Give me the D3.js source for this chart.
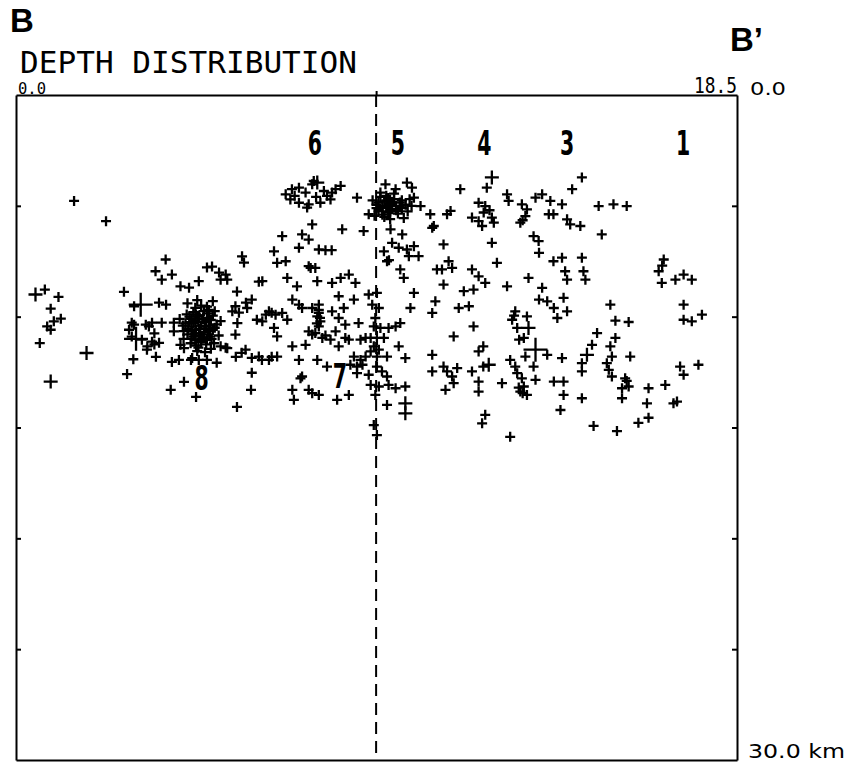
<!DOCTYPE html>
<html><head><meta charset="utf-8">
<script src="https://cdn.jsdelivr.net/npm/d3@7"></script>
<style>body{margin:0;background:#fff}</style>
</head><body>
<svg id="chart" width="852" height="766"></svg>
<script>
// distance along section B-B' (km), depth (km), size class
const westEvents = [[1.49,4.78],[2.31,5.69],[0.50,9.00,2],[0.74,8.78],[1.09,9.11],[0.89,9.64],[1.15,10.09],[0.80,10.44],[0.89,10.59],[0.97,10.21],[0.61,11.19],[1.81,11.64,2],[0.89,12.93,2]];

const cluster8Core = [[4.45,10.0],[4.55,9.8],[4.6,10.2],[4.7,9.95],[4.8,10.1],[4.9,9.85],[5.0,10.15],[4.5,10.45],[4.62,10.6],[4.75,10.4],[4.85,10.55],[4.95,10.4],[5.05,10.6],[4.4,10.8],[4.55,10.9],[4.7,10.75],[4.8,10.95],[4.92,10.8],[5.02,11.0],[4.48,11.2],[4.62,11.3],[4.75,11.15],[4.88,11.25],[4.6,9.6],[4.75,9.5],[4.9,9.55],[5.1,9.75],[5.15,10.35],[5.2,10.85],[4.35,10.3],[4.3,10.65],[4.65,11.55],[4.85,11.6],[5.0,11.45],[4.4,9.4],[4.65,9.25],[5.05,9.3],[4.3,11.0],[5.25,10.2],[4.2,10.1],[4.55,10.3],[4.7,10.55],[4.85,10.25],[4.98,10.9],[4.6,11.05],[4.78,10.1],[4.68,10.25],[4.82,10.7],[4.52,10.65],[4.95,10.05],
[4.5,10.1],[4.65,10.0],[4.88,10.45],[4.72,10.85],[4.58,10.75],[4.42,10.55],[5.1,10.5],[4.95,10.65],[4.68,11.4],[4.5,11.0],[4.82,9.75],[4.38,9.9],[5.08,11.2],[4.28,10.4],[4.9,11.05],[4.62,9.9],[4.75,11.0],[4.45,10.25],[5.05,9.95],[4.95,9.7]];

const cluster8Outer = [[2.77,8.88],[3.03,9.53],[3.20,9.46,3],[3.58,7.95],[2.90,10.59],[3.03,10.36],[3.08,11.0,3],[3.41,10.44],[3.55,10.75],[3.37,11.34],[3.55,11.25],[3.01,11.92],[2.85,12.59],
[3.74,8.33],[4.0,8.1],[4.22,8.63],[4.44,8.69],[4.69,8.40],[4.90,7.78],[5.03,7.74],[5.21,8.01],[5.38,8.10],[5.80,7.28],[5.85,7.56],[6.23,8.42],[5.67,8.87],[5.90,9.37],[6.05,9.23],[5.72,9.82],[6.18,10.14],[6.41,9.91],[6.56,9.82],
[3.85,9.46],[3.67,9.37],[2.97,10.27],[3.33,10.36],[3.49,10.27],[3.74,10.27],[4.05,10.27],[2.97,10.90],[3.23,11.04],[3.49,11.13],[3.67,11.18],[3.36,11.49],[3.59,11.81],
[4.0,12.04],[4.18,11.95],[4.49,11.95],[4.69,11.95],[4.90,11.95],[5.15,12.08],[5.38,11.40],[5.64,11.81],[5.79,11.63],[6.05,11.86],[6.31,11.95],[6.56,11.81],[6.05,12.53],[6.03,13.30],[5.67,14.07],[4.31,12.94],[3.97,13.30],[4.62,13.62],
[3.84,7.42],[5.25,8.33],[5.42,8.33],[4.05,10.66],[4.22,11.27],[4.31,11.42],[4.52,11.87],[5.25,11.34],[5.42,11.42],[5.63,9.53],[5.68,10.29],[5.63,10.81],[5.55,9.76],[5.93,9.61],[6.32,10.21],[6.49,9.76],[6.66,9.91],[6.83,9.83],[6.62,10.51],[6.70,10.89],[6.96,10.14],[5.89,11.49],[6.23,11.80],[6.49,11.95],[6.70,11.80],
[6.62,7.05],[6.83,6.37],[6.70,7.57],[6.92,7.50],[6.96,8.25]];

const cluster6Events = [[6.92,4.48],[7.08,4.25],[7.26,4.18],[7.43,4.40],[7.60,4.03],[7.73,3.95,2],[7.90,4.33],[8.11,4.40],[8.33,4.10],[8.07,4.71],[7.81,4.86],[7.51,4.93],[7.26,4.86],[7.04,4.71],[8.75,4.63],[7.64,3.88],[7.47,5.08],[7.98,4.55],[8.20,4.25],[7.70,4.60],[7.15,4.55]];

const cluster7Events = [[7.60,5.84],[7.34,6.29],[7.51,6.52],[8.37,6.06],[8.92,6.14],[7.26,6.89],[7.77,6.97],[7.94,7.0],[8.10,7.0],[7.56,7.80],[7.51,7.72],[7.68,7.80],[7.21,8.63],[6.32,8.40],[7.73,8.40],[8.11,8.48],[8.33,8.25],[8.54,8.10],[8.71,8.48],[7.09,9.23],[7.26,9.46],[8.28,9.08],[8.67,9.23],[8.41,9.61],[8.11,9.76],[7.77,9.46],[7.77,9.83],[7.81,10.21],[7.60,9.61],[7.34,9.61],[8.28,10.06],[8.45,10.36],[8.79,10.29],[7.60,10.81],[7.86,10.96],[8.07,11.04],[8.28,11.34],[8.54,11.04],[7.73,11.95],[7.98,12.25],[8.67,11.80],[8.58,12.17],[7.34,12.70],[7.60,13.45],[7.77,13.53],[8.24,13.75],[8.54,13.53],[7.43,11.27],[7.09,11.34],[7.26,11.95],[7.30,12.78],[7.09,13.30],[7.13,13.75],[7.51,13.30],[7.73,9.99],[7.77,10.44],[7.51,10.66],[7.68,10.74],[7.94,10.85],[8.20,10.66],[8.45,10.96],[7.77,9.7],[7.80,10.05],[7.72,10.3]];

const cluster5Core = [[9.15,4.75],[9.25,4.95],[9.3,5.2],[9.35,4.6],[9.4,5.0],[9.45,4.8],[9.5,5.1],[9.5,4.55],[9.55,5.3],[9.6,4.9],[9.65,5.15],[9.7,4.7],[9.75,5.0],[9.8,5.35],[9.85,4.85],[9.9,5.1],[10.0,4.95],[10.05,5.25],[10.1,4.7],[9.2,5.45],[9.45,5.5],[9.6,5.6],[9.35,4.4],[9.7,4.45],[9.95,5.55],[9.55,5.0],[9.4,5.25],[9.65,4.95],
[9.3,4.85],[9.5,4.75],[9.6,5.25],[9.75,5.2],[9.85,5.05],[9.4,5.4],[9.55,4.65],[9.9,4.75],[10.15,5.0],[9.25,5.1]];

const cluster5Outer = [[9.48,4.03],[9.74,4.25],[10.03,3.95],[10.16,4.18],[10.21,4.63],[10.38,5.01],[10.63,5.38],[10.72,5.91],[9.05,5.38],[9.61,6.06],[9.91,6.29],[10.68,5.99],[9.65,6.67],[9.44,7.05],[9.52,7.50],[9.57,7.45],[9.82,6.89],[10.03,6.97],[10.21,6.82],[10.33,7.27],[10.08,7.27],[9.86,7.87],[9.95,8.25],[10.21,8.93],[10.12,9.61],[10.68,9.83],[10.76,9.31],[10.80,7.87],[10.68,11.72],[10.68,12.47]];

const sectionLineEvents = [[9.05,9.0],[9.26,8.93],[9.14,9.46],[9.31,9.61],[9.22,10.06],[9.18,10.44],[9.35,10.51],[9.56,10.51],[9.74,10.44],[9.86,10.29],[8.97,10.96],[9.10,10.96],[9.26,10.96,2],[9.44,10.96],[8.84,11.04],[9.18,11.34],[9.31,11.49],[9.10,11.57],[9.26,11.80],[9.52,11.80],[9.82,11.34],[9.99,11.87],[8.84,11.95],[8.97,11.80],[8.89,12.17],[8.75,12.25],[8.75,12.55],[9.05,12.62],[9.26,12.25],[9.39,12.47],[9.52,12.70],[9.10,13.08],[9.31,13.15],[9.56,13.08],[9.74,13.23],[9.99,13.15],[9.22,13.53],[9.52,13.98],[9.99,13.91,2],[9.99,14.36,2],[9.18,14.89],[9.26,15.34]];

const cluster4Events = [[11.40,4.25],[12.21,3.72,2],[12.08,4.18],[12.60,4.48],[12.64,4.78],[11.15,5.23],[11.06,5.38],[11.87,4.86],[12.04,5.01],[11.70,5.53],[11.87,5.69],[11.96,5.91],[12.21,5.53],[12.26,5.76],[12.0,5.3],[12.15,5.2],[10.97,6.74],[12.21,6.67],[11.10,7.50],[11.19,7.80],[10.93,7.87],[11.70,7.87],[11.87,8.18],[12.34,7.57],[12.60,8.63],[12.04,8.48],[11.74,8.78],[11.49,8.85],[10.97,8.55],[11.62,9.53],[11.36,9.61],[11.74,10.44],[11.23,10.89],[11.99,11.34],[11.87,11.57],[12.68,11.95],[12.47,13.00],[12.13,12.17,2],[11.99,12.25],[11.70,12.47],[11.87,12.93],[11.87,13.38],[11.32,12.32],[11.06,12.47],[11.19,12.70],[11.23,13.00],[11.02,13.30],[10.97,12.25],[12.04,14.43],[11.96,14.81],[12.68,15.42]];

const cluster3Events = [[12.98,4.93],[13.11,5.16],[13.33,4.63],[13.50,4.48],[13.71,4.78],[13.07,5.46],[12.94,5.76],[13.0,5.65],[13.67,5.38],[13.79,5.38],[14.01,4.93],[14.14,5.61],[14.22,5.84],[14.27,4.25],[13.28,6.37],[13.41,6.59],[13.42,7.12],[13.79,7.50],[14.01,7.34],[14.09,7.95],[14.14,8.33],[13.15,8.25],[13.50,8.70],[13.42,9.23],[13.63,9.31],[13.80,9.61],[14.05,9.15],[13.89,10.06],[14.14,9.76],[12.81,9.76],[12.78,9.95],[12.73,10.14],[13.11,9.99],[12.86,10.51],[13.15,10.51,2],[13.03,10.96],[12.91,11.04],[13.33,11.49,3],[13.07,11.80],[13.63,11.72],[14.01,11.87],[12.81,12.25],[12.86,12.55],[13.28,12.25],[13.33,12.85],[12.98,12.78],[13.03,13.15],[12.9,13.2],[13.0,13.45],[13.11,13.53],[12.94,13.38],[13.80,12.93],[14.05,12.93],[14.05,13.53],[13.97,14.21]];

const cluster1Events = [[14.95,5.01],[15.33,4.93],[15.67,5.01],[15.03,6.29],[14.52,3.72],[14.48,5.91],[14.52,7.34],[14.56,7.95],[14.61,8.33],[16.62,7.42],[16.49,7.95],[16.58,7.7],[16.57,8.48],[16.92,8.33],[17.13,8.10],[17.34,8.33],[15.25,9.46],[15.38,10.18],[15.72,10.24],[17.13,9.46],[17.13,10.14],[17.34,10.21],[17.60,9.91],[14.91,10.74],[14.78,11.27],[14.65,11.72,2],[14.52,12.10],[14.52,12.47],[15.38,10.96],[15.25,11.34],[15.29,11.80],[15.16,12.10],[15.21,12.40],[15.29,12.70],[15.76,11.80],[15.63,12.78],[15.67,12.9],[15.72,13.15],[15.55,13.23],[15.55,13.68],[16.23,13.23],[16.19,13.91],[16.66,13.08],[16.87,13.91],[16.96,13.83],[17.04,12.25],[17.13,12.62],[17.51,12.17],[16.23,14.56],[15.97,14.79],[14.82,14.93],[15.42,15.16],[14.52,13.68]];

const clusterLabels = [["6",7.67,2.71],["5",9.80,2.71],["4",12.02,2.71],["3",14.14,2.71],["1",17.12,2.71],["7",8.31,13.2],["8",4.76,13.3]];
const depthTicks = [5,10,15,20,25];
const sectionLineKm = 9.24;
const xDomain = [0,18.5];
const depthDomain = [0,30];
const xTickLabels = ["0.0","18.5"];
const depthTickLabels = ["0.0","30.0 km"];

const svg = d3.select("#chart");
const x = d3.scaleLinear().domain(xDomain).range([16,737]);
const y = d3.scaleLinear().domain(depthDomain).range([95,760]);
const arm = d3.scaleOrdinal().domain([1,2,3]).range([5,7,12]);

// frame + ticks via axes
svg.append("g").attr("transform",`translate(${x(0)},0)`)
  .call(d3.axisLeft(y).tickValues(depthTicks).tickSize(-5).tickSizeOuter(0).tickFormat(""));
svg.append("g").attr("transform",`translate(${x(18.5)},0)`)
  .call(d3.axisRight(y).tickValues(depthTicks).tickSize(-5).tickSizeOuter(0).tickFormat(""));
svg.append("g").attr("transform",`translate(0,${y(0)})`)
  .call(d3.axisTop(x).tickValues([sectionLineKm]).tickSize(4).tickSizeOuter(0).tickFormat(""));
svg.append("g").attr("transform",`translate(0,${y(30)})`)
  .call(d3.axisBottom(x).tickValues([]).tickSizeOuter(0));
svg.selectAll(".domain").attr("stroke","#000").attr("stroke-width",2);
svg.selectAll(".tick line").attr("stroke","#000").attr("stroke-width",2);

// section line
svg.append("line").attr("x1",x(sectionLineKm)).attr("x2",x(sectionLineKm))
  .attr("y1",y(0)).attr("y2",y(30))
  .attr("stroke","#000").attr("stroke-width",2).attr("stroke-dasharray","12,7");

const events = [].concat(westEvents,cluster8Core,cluster8Outer,cluster6Events,cluster7Events,cluster5Core,cluster5Outer,sectionLineEvents,cluster4Events,cluster3Events,cluster1Events)
  .map(d=>({km:d[0],depth:d[1],m:d[2]||1}));

svg.append("g").selectAll("path").data(events).join("path")
  .attr("d",d=>{const cx=x(d.km), cy=y(d.depth), h=arm(d.m);
    return `M${cx-h},${cy}H${cx+h}M${cx},${cy-h}V${cy+h}`;})
  .attr("stroke","#000").attr("stroke-width",2.3).attr("fill","none");

// cluster labels (condensed bold)
svg.append("g").selectAll("text").data(clusterLabels).join("text")
  .attr("transform",d=>`translate(${x(d[1])},${y(d[2])}) scale(0.62,1)`)
  .attr("text-anchor","middle")
  .style("font-family","'DejaVu Sans',sans-serif")
  .style("font-weight","bold").style("font-size","33px")
  .text(d=>d[0]);

// titles
svg.append("text").attr("x",10).attr("y",32)
  .style("font-family","'Liberation Sans',Arial,sans-serif").style("font-weight","bold").style("font-size","33px").text("B");
svg.append("text").attr("x",730).attr("y",51)
  .style("font-family","'Liberation Sans',Arial,sans-serif").style("font-weight","bold").style("font-size","33px").text("B’");
svg.append("text").attr("x",20).attr("y",73)
  .attr("textLength",337).attr("lengthAdjust","spacingAndGlyphs")
  .style("font-family","'DejaVu Sans Mono',monospace").style("font-size","31px").text("DEPTH DISTRIBUTION");

// tick labels
svg.append("text").attr("x",x(0)+2).attr("y",94)
  .attr("textLength",28).attr("lengthAdjust","spacingAndGlyphs")
  .style("font-family","'DejaVu Sans Mono',monospace").style("font-size","16px").text(xTickLabels[0]);
svg.append("text").attr("x",x(18.5)-43).attr("y",93)
  .attr("textLength",43).attr("lengthAdjust","spacingAndGlyphs")
  .style("font-family","'DejaVu Sans Mono',monospace").style("font-size","21px").text(xTickLabels[1]);
svg.append("text").attr("x",750).attr("y",95)
  .attr("textLength",36).attr("lengthAdjust","spacingAndGlyphs")
  .style("font-family","'DejaVu Sans',sans-serif").style("font-size","18px").text(depthTickLabels[0]);
svg.append("text").attr("x",748).attr("y",758)
  .attr("textLength",97).attr("lengthAdjust","spacingAndGlyphs")
  .style("font-family","'DejaVu Sans',sans-serif").style("font-size","19px").text(depthTickLabels[1]);
</script>
</body></html>
